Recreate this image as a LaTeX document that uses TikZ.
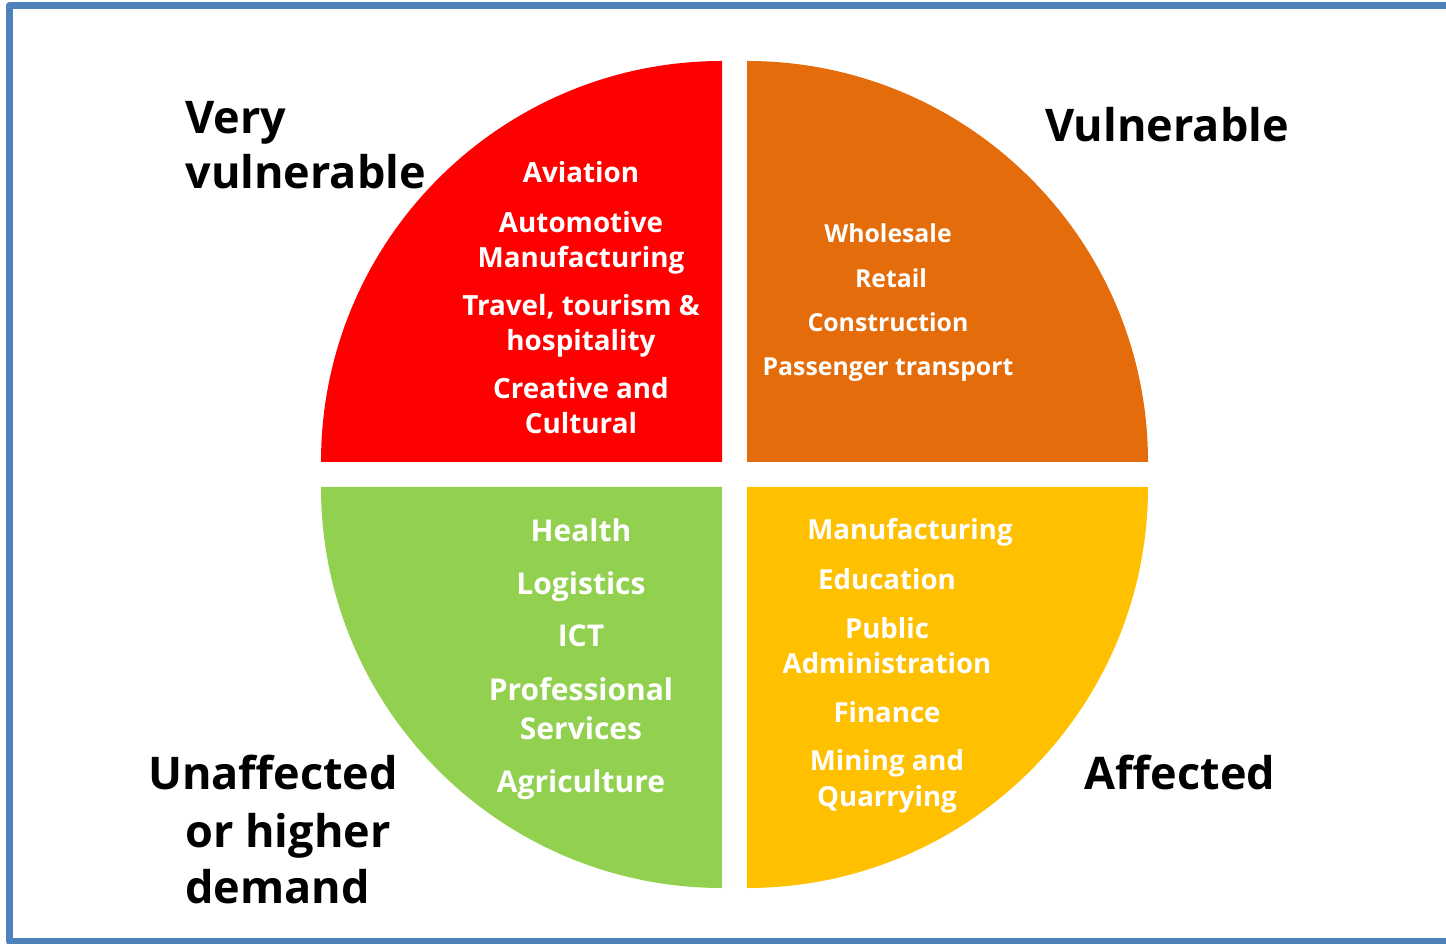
\documentclass[tikz,border=0pt]{standalone}
\usepackage{fontspec}
\setmainfont{Open Sans}
\definecolor{framecol}{HTML}{4F81BD}
\definecolor{redq}{HTML}{FF0000}
\definecolor{orangeq}{HTML}{E46C0A}
\definecolor{greenq}{HTML}{92D050}
\definecolor{yellowq}{HTML}{FFC000}
\tikzset{
  item/.style={text=white, align=center, inner sep=0pt,
    font=\bfseries\fontsize{13.9}{17.5}\selectfont},
  tag/.style={text=black, align=left, inner sep=0pt,
    font=\bfseries\fontsize{22.5}{27.5}\selectfont}
}
\begin{document}
\begin{tikzpicture}[x=0.5pt,y=0.5pt]
  \useasboundingbox (0,0) rectangle (1446,943);
  \clip (0,0) rectangle (1446,943);
  \draw[framecol, line width=3.5pt, line join=round] (9.5,1.5) rectangle (1470,937.7);
  % four quarters
  \fill[redq] (722,481) -- (321,481) arc[start angle=180, end angle=90, radius=200.5pt] -- cycle;
  \fill[orangeq] (747,481) -- (747,882) arc[start angle=90, end angle=0, radius=200.5pt] -- cycle;
  \fill[greenq] (722,456) -- (722,55) arc[start angle=270, end angle=180, radius=200.5pt] -- cycle;
  \fill[yellowq] (747,456) -- (1148,456) arc[start angle=0, end angle=-90, radius=200.5pt] -- cycle;
  % very vulnerable
  \node[item] (aviation) at (581,771) {Aviation};
  \node[item] (automotive) at (581,700.5) {Automotive\\Manufacturing};
  \node[item] (travel) at (581,617.5) {Travel, tourism \&\\hospitality};
  \node[item] (creative) at (581,537.5) {Creative and\\Cultural};
  % vulnerable
  \begin{scope}[item/.append style={font=\bfseries\fontsize{12.4}{16}\selectfont}]
    \node[item] (wholesale) at (888,710) {Wholesale};
    \node[item] (retail) at (891,665) {Retail};
    \node[item] (construction) at (888,621) {Construction};
    \node[item] (passenger) at (888,573) {Passenger transport};
  \end{scope}
  % unaffected
  \begin{scope}[item/.append style={font=\bfseries\fontsize{15}{19.5}\selectfont}]
    \node[item] (health) at (581,413) {Health};
    \node[item] (logistics) at (581,356) {Logistics};
    \node[item] (ict) at (581,307) {ICT};
    \node[item] (professional) at (581,234.5) {Professional\\Services};
    \node[item] (agriculture) at (581,158) {Agriculture};
  \end{scope}
  % affected
  \begin{scope}[item/.append style={font=\bfseries\fontsize{13.8}{17.8}\selectfont}]
    \node[item] (manufacturing) at (910,411) {Manufacturing};
    \node[item] (education) at (887,364) {Education};
    \node[item] (public) at (887,297.5) {Public\\Administration};
    \node[item] (finance) at (887,231) {Finance};
    \node[item] (mining) at (887,161.5) {Mining and\\Quarrying};
  \end{scope}
  % labels
  \node[tag, anchor=west] (veryvul) at (185,797.5) {Very\\vulnerable};
  \node[tag] (vul) at (1167,818) {Vulnerable};
  \node[tag] (aff) at (1180,170) {Affected};
  \node[tag] (unaff) at (273,170) {Unaffected};
  \node[tag, anchor=west] (higher) at (185,107) {or higher};
  \node[tag, anchor=west] (demand) at (185,56) {demand};
\end{tikzpicture}
\end{document}
